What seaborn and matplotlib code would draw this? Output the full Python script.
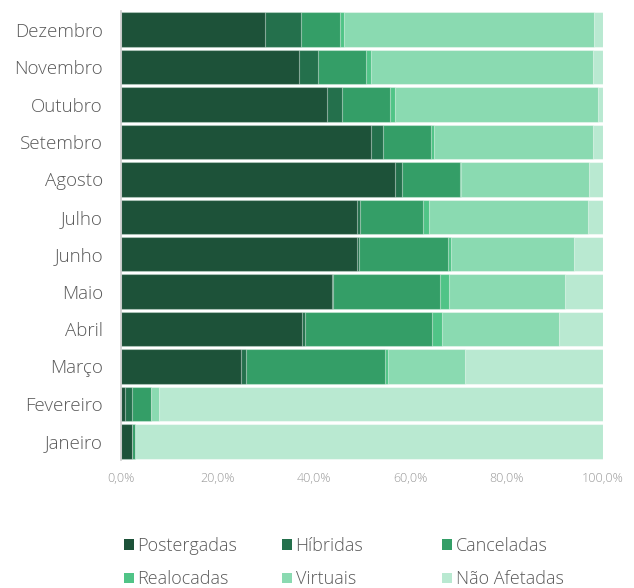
import matplotlib
matplotlib.use("Agg")
import matplotlib.pyplot as plt
import seaborn as sns
import numpy as np
import pandas as pd
from matplotlib.patches import Patch
from matplotlib.ticker import FuncFormatter

months = ["Dezembro", "Novembro", "Outubro", "Setembro", "Agosto", "Julho",
          "Junho", "Maio", "Abril", "Março", "Fevereiro", "Janeiro"]
categories = ["Postergadas", "Híbridas", "Canceladas", "Realocadas", "Virtuais", "Não Afetadas"]

postergadas = [29.9, 36.9, 42.8, 51.9, 56.9, 49.0, 49.0, 43.8, 37.5, 24.9, 0.8, 2.3]
hibridas    = [7.5, 4.0, 3.1, 2.5, 1.4, 0.6, 0.4, 0.1, 0.7, 1.0, 1.5, 0.0]
canceladas  = [8.0, 9.9, 9.9, 10.0, 12.1, 13.0, 18.5, 22.2, 26.3, 28.8, 4.0, 0.6]
realocadas  = [0.8, 1.0, 1.0, 0.6, 0.1, 1.2, 0.6, 1.9, 2.1, 0.6, 0.0, 0.0]
virtuais    = [51.9, 46.1, 42.1, 33.0, 26.5, 33.0, 25.5, 24.1, 24.2, 16.0, 1.5, 0.0]
nao_afetadas = [1.9, 2.1, 1.0, 2.1, 3.1, 3.1, 6.0, 8.1, 9.1, 28.6, 92.2, 97.1]

colors = ["#1d5239", "#24704c", "#349e67", "#50c487", "#8adab1", "#b9e9d1"]

sns.set_theme(style="white")
plt.rcParams['font.family'] = ['Open Sans', 'DejaVu Sans']

series = [postergadas, hibridas, canceladas, realocadas, virtuais, nao_afetadas]
df = pd.DataFrame({c: s for c, s in zip(categories, series)}, index=months)
cum = df.cumsum(axis=1)

fig = plt.figure(figsize=(6.34, 5.88), dpi=100)
ax = fig.add_axes([121/634, 1 - 460/588, 482/634, 449/588])

for i in range(len(categories) - 1, -1, -1):
    c = categories[i]
    d = pd.DataFrame({"month": months, "value": cum[c].values})
    sns.barplot(data=d, x="value", y="month", order=months, orient="h",
                color=colors[i], width=0.92, edgecolor=(1, 1, 1, 0.45),
                linewidth=0.8, ax=ax, saturation=1)

ax.set_xlim(0, 100)
ax.set_ylim(len(months) - 0.5, -0.5)
ax.set_xlabel("")
ax.set_ylabel("")
ax.set_xticks([0, 20, 40, 60, 80, 100])
ax.xaxis.set_major_formatter(FuncFormatter(lambda v, p: f"{v:.1f}%".replace(".", ",")))
ax.tick_params(axis="x", length=0, pad=8.5, labelsize=9, labelcolor="#999999")
ax.tick_params(axis="y", length=0, pad=13, labelsize=13.5, labelcolor="#5a5a5a")
for lab in ax.get_xticklabels() + ax.get_yticklabels():
    lab.set_fontweight("light")
for s in ["top", "right", "bottom"]:
    ax.spines[s].set_visible(False)
ax.spines["left"].set_color("#cccccc")
ax.spines["left"].set_linewidth(1.2)
ax.grid(False)

# legend in three fixed-width columns
col_x = [124/634, 282/634, 442/634]
for j in range(3):
    idx = [j, j + 3]
    handles = [Patch(facecolor=colors[k], edgecolor="none") for k in idx]
    labels = [categories[k] for k in idx]
    leg = fig.legend(handles, labels, loc="upper left",
                     bbox_to_anchor=(col_x[j], 1 - 537/588), frameon=False,
                     fontsize=13, handlelength=0.55, handleheight=0.55,
                     handletextpad=0.2, labelspacing=0.85, borderaxespad=0,
                     borderpad=0)
    for t in leg.get_texts():
        t.set_color("#5a5a5a")
        t.set_fontweight("light")

fig.savefig("out.png", dpi=100)
